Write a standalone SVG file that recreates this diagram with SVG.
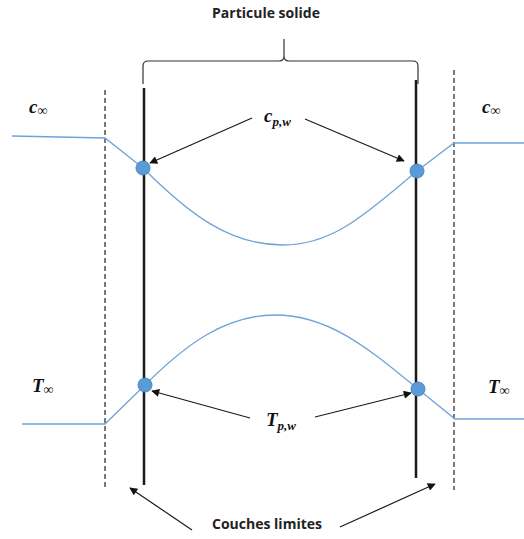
<svg xmlns="http://www.w3.org/2000/svg" width="524" height="539" viewBox="0 0 524 539">
<defs>
<style>
.lbl{font-family:"Open Sans","Liberation Sans",sans-serif;font-weight:bold;font-size:14px;fill:#222}
.math{font-family:"Liberation Serif","DejaVu Serif",serif;font-weight:bold;font-style:italic;fill:#111}
.wall{stroke:#1a1a1a;stroke-width:2.5;fill:none}
.dash{stroke:#222;stroke-width:1.2;stroke-dasharray:5,3;fill:none}
.prof{stroke:#6fa3d8;stroke-width:1.3;fill:none}
.pt{fill:#5b9bd5;stroke:#4a86c0;stroke-width:1}
.arr{stroke:#1a1a1a;stroke-width:1.2;fill:none;marker-end:url(#ah)}
</style>
<marker id="ah" viewBox="0 0 10 10" refX="9" refY="5" markerWidth="10" markerHeight="8" markerUnits="userSpaceOnUse" orient="auto">
<path d="M0,0 L10,5 L0,10 z" fill="#111"/>
</marker>
</defs>
<rect width="524" height="539" fill="#fff"/>
<g id="title"><text class="lbl" x="266" y="18" text-anchor="middle">Particule solide</text></g>
<g id="brace"><path d="M143,84 L143,66 Q143,61 148,61 L279,61 Q284,61 284,56 L284,39 L284,56 Q284,61 289,61 L413,61 Q418,61 418,66 L418,84" stroke="#333" stroke-width="1.2" fill="none"/></g>
<g id="walls">
<line class="wall" x1="144" y1="88" x2="144" y2="485"/>
<line class="wall" x1="416" y1="80" x2="416" y2="478"/>
<line class="dash" x1="105" y1="90" x2="105" y2="490"/>
<line class="dash" x1="454" y1="70" x2="454" y2="490"/>
</g>
<g id="profiles">
<path class="prof" d="M12,136 L105,138 L143,168 C190,215 230,245 283,245 C335,245 370,210 417,171 L454,143 L524,143"/>
<path class="prof" d="M22,424 L105,424 L145,385 C185,345 225,315 275,315 C330,315 370,350 418,389 L455,419 L524,419"/>
</g>
<g id="points">
<circle class="pt" cx="143" cy="168" r="7"/>
<circle class="pt" cx="417" cy="171" r="7"/>
<circle class="pt" cx="145" cy="385" r="7"/>
<circle class="pt" cx="418" cy="389" r="7"/>
</g>
<g id="labels">
<text class="math" x="29" y="113" font-size="19">c<tspan font-size="14" dy="2">∞</tspan></text>
<text class="math" x="482" y="113" font-size="19">c<tspan font-size="14" dy="2">∞</tspan></text>
<text class="math" x="32" y="392" font-size="19">T<tspan font-size="14" dy="2">∞</tspan></text>
<text class="math" x="488" y="393" font-size="19">T<tspan font-size="14" dy="2">∞</tspan></text>
<text class="math" x="264" y="122" font-size="19">c<tspan font-size="13" dy="4">p,w</tspan></text>
<text class="math" x="266" y="426" font-size="19">T<tspan font-size="13" dy="4">p,w</tspan></text>
<text class="lbl" x="267" y="529" text-anchor="middle">Couches limites</text>
</g>
<g id="connectors">
<line class="arr" x1="252" y1="118" x2="150" y2="163"/>
<line class="arr" x1="305" y1="119" x2="404" y2="161"/>
<line class="arr" x1="250" y1="418" x2="152" y2="391"/>
<line class="arr" x1="315" y1="417" x2="411" y2="393"/>
<line class="arr" x1="192" y1="530" x2="130" y2="488"/>
<line class="arr" x1="340" y1="527" x2="435" y2="484"/>
</g>
</svg>
